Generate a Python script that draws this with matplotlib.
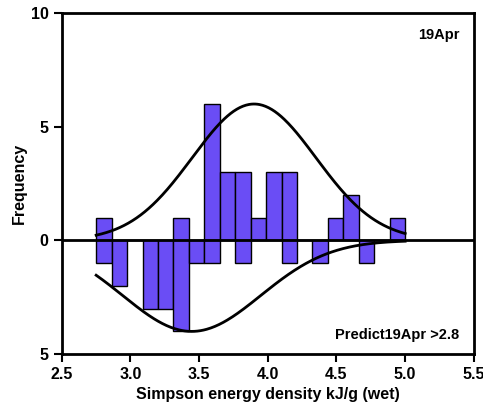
import matplotlib
matplotlib.use("Agg")
import matplotlib.pyplot as plt
import numpy as np

plt.rcParams['font.family'] = ['Liberation Sans', 'DejaVu Sans']
plt.rcParams['font.weight'] = 'bold'

# histogram bins (20 bins from 2.75 to 5.0)
bin_lo = 2.75
bin_hi = 5.0
n_bins = 20
# counts above the axis (observed) and below (predicted)
counts_obs = [1, 0, 0, 0, 0, 1, 0, 6, 3, 3, 1, 3, 3, 0, 0, 1, 2, 0, 0, 1]
counts_pred = [1, 2, 0, 3, 3, 4, 1, 1, 0, 1, 0, 0, 1, 0, 1, 0, 0, 1, 0, 0]

xticks = [2.5, 3.0, 3.5, 4.0, 4.5, 5.0, 5.5]
yticks = [-5, 0, 5, 10]
ytick_labels = ["5", "0", "5", "10"]

edges = np.linspace(bin_lo, bin_hi, n_bins + 1)
centers = (edges[:-1] + edges[1:]) / 2
width = edges[1] - edges[0]
bar_color = "#6a4df5"


def fit_curve(counts, x):
    c = np.array(counts, dtype=float)
    mu = np.sum(c * centers) / c.sum()
    sd = np.sqrt(np.sum(c * (centers - mu) ** 2) / (c.sum() - 1))
    return c.max() * np.exp(-(x - mu) ** 2 / (2 * sd ** 2))


fig = plt.figure(figsize=(4.83, 4.08), dpi=100)
ax = fig.add_axes([0.128, 0.132, 0.853, 0.836])

ax.bar(centers, counts_obs, width=width, color=bar_color,
       edgecolor="black", linewidth=1.0, zorder=2)
ax.bar(centers, -np.array(counts_pred), width=width, color=bar_color,
       edgecolor="black", linewidth=1.0, zorder=2)

xs = np.linspace(bin_lo, bin_hi, 300)
ax.plot(xs, fit_curve(counts_obs, xs), color="black", lw=2, zorder=3)
ax.plot(xs, -fit_curve(counts_pred, xs), color="black", lw=2, zorder=3)

ax.axhline(0, color="black", lw=2, zorder=4)

ax.set_xlim(2.5, 5.5)
ax.set_ylim(-5, 10)
ax.set_xticks(xticks)
ax.set_xticklabels([f"{t:.1f}" for t in xticks])
ax.set_yticks(yticks)
ax.set_yticklabels(ytick_labels)
ax.tick_params(direction="out", length=6, width=1.5, labelsize=11.5)
for s in ax.spines.values():
    s.set_linewidth(2)

ax.set_xlabel("Simpson energy density kJ/g (wet)", fontsize=11.5, fontweight="bold", labelpad=3)
ax.set_ylabel("Frequency", fontsize=11.5, fontweight="bold", labelpad=3)

ax.text(0.965, 0.955, "19Apr", transform=ax.transAxes, ha="right", va="top",
        fontsize=10.5, fontweight="bold")
ax.text(0.965, 0.035, "Predict19Apr >2.8", transform=ax.transAxes, ha="right",
        va="bottom", fontsize=10.5, fontweight="bold")

fig.savefig("out.png", dpi=100)
